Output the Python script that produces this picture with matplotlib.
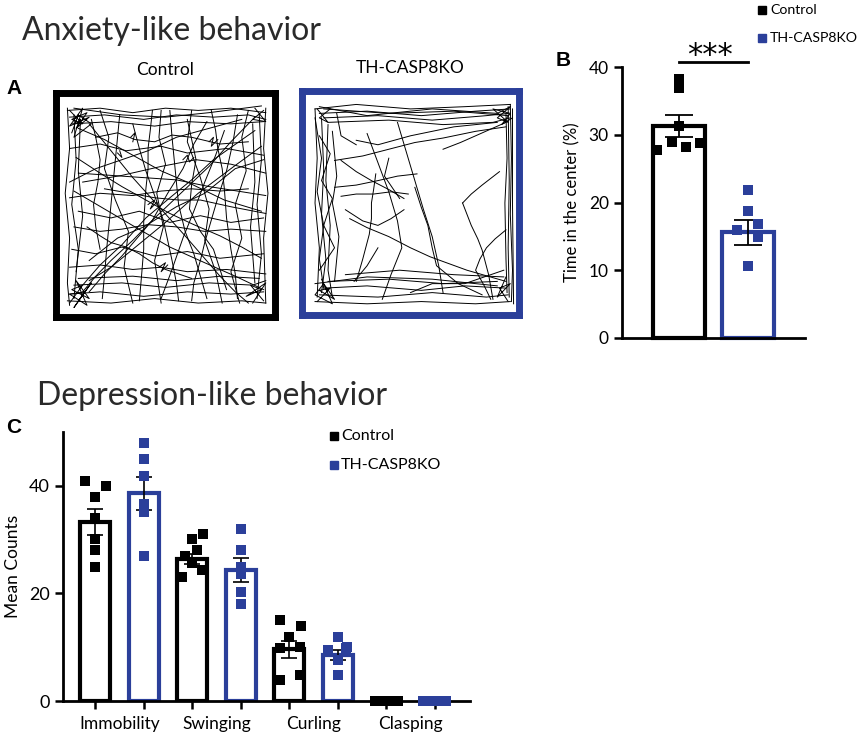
import numpy as np
import matplotlib
matplotlib.use("Agg")
import matplotlib.pyplot as plt
from matplotlib.lines import Line2D

plt.rcParams['font.family'] = ['Lato', 'DejaVu Sans']

W, H = 865, 734
BLUE = '#2b3f9a'

# ---- Panel A: open field tracks (box coords 0-100, y up) ----
ctrl_tracks = [
    [(5, 92), (20, 93), (35, 91), (50, 93), (65, 92), (80, 93), (96, 91)],
    [(6, 89), (22, 90), (40, 88), (55, 90), (72, 89), (88, 90), (96, 88)],
    [(7, 86), (25, 87), (45, 85), (60, 87), (80, 86), (95, 87)],
    [(8, 93), (30, 90), (50, 89), (70, 91), (94, 94)],
    [(5, 7), (25, 6), (45, 8), (65, 6), (85, 7), (96, 6)],
    [(6, 10), (20, 11), (40, 9), (60, 11), (80, 10), (95, 11)],
    [(8, 14), (30, 15), (50, 13), (70, 15), (90, 14), (96, 16)],
    [(10, 17), (35, 18), (55, 16), (75, 18), (93, 17)],
    [(5, 93), (6, 75), (4, 55), (6, 35), (5, 15), (6, 5)],
    [(8, 90), (9, 70), (7, 50), (10, 30), (8, 8)],
    [(11, 88), (10, 65), (12, 45), (9, 20)],
    [(96, 93), (95, 75), (97, 55), (95, 35), (96, 6)],
    [(93, 90), (94, 70), (92, 50), (94, 28), (92, 8)],
    [(90, 86), (91, 60), (89, 40), (91, 15)],
    [(10, 84), (22, 79), (35, 72), (48, 65), (60, 60), (77, 52), (94, 47)],
    [(10, 64), (25, 63), (40, 62), (55, 61), (70, 58), (83, 56), (96, 54)],
    [(6, 53), (20, 55), (35, 54), (48, 56), (62, 57), (75, 56), (88, 57)],
    [(8, 40), (20, 38), (30, 39), (42, 41), (55, 40), (68, 38), (80, 39), (96, 38)],
    [(6, 22), (20, 23), (35, 21), (48, 22), (60, 20), (78, 21), (96, 19)],
    [(12, 14), (20, 23), (30, 32), (41, 44), (52, 53), (62, 61), (72, 70), (91, 83)],
    [(15, 11), (22, 19), (30, 27), (37, 35), (44, 43), (51, 55), (58, 66), (63, 77), (69, 87)],
    [(44, 92), (43, 83), (42, 75), (42, 66), (41, 57), (40, 42), (40, 30), (39, 18), (38, 7)],
    [(52, 92), (53, 80), (54, 70), (55, 60), (56, 50), (59, 38), (63, 28), (66, 18), (69, 8)],
    [(71, 92), (73, 83), (74, 75), (76, 66), (77, 57), (78, 44), (80, 30), (82, 19), (83, 8)],
    [(83, 90), (81, 78), (78, 65), (74, 53), (71, 43), (68, 33), (66, 25), (63, 15), (62, 7)],
    [(29, 90), (28, 80), (27, 70), (26, 60), (25, 50), (24, 40), (23, 30), (22, 18), (21, 8)],
    [(35, 86), (38, 75), (41, 65), (45, 54), (49, 43), (51, 34), (53, 25), (55, 15), (56, 7)],
    [(9, 71), (20, 64), (30, 58), (41, 52), (52, 46), (63, 41), (75, 36), (85, 31), (94, 26)],
    [(15, 86), (25, 74), (35, 62), (47, 49), (59, 36), (67, 27), (75, 18), (82, 11), (88, 6)],
    [(22, 57), (34, 55), (45, 53), (56, 52), (66, 52), (80, 49), (96, 46)],
    [(14, 40), (20, 36), (25, 33), (32, 31), (38, 28), (44, 24), (50, 21), (56, 19), (62, 17)],
    [(91, 89), (80, 78), (70, 67), (57, 55), (44, 43), (35, 34), (25, 25), (18, 18), (12, 11)],
    [(77, 83), (73, 72), (68, 60), (63, 47), (58, 35), (53, 21), (48, 8)],
    [(94, 76), (80, 66), (65, 55), (50, 42), (35, 30), (25, 22), (15, 16)],
    [(18, 80), (28, 82), (36, 79), (45, 78), (53, 81), (62, 80), (75, 77), (88, 78)],
    [(20, 30), (18, 40), (17, 50), (19, 60), (20, 70), (18, 80), (16, 88)],
    [(60, 88), (62, 79), (64, 70), (62, 59), (61, 48), (66, 38), (72, 30), (75, 21), (78, 12)],
    [(6, 75), (20, 77), (32, 74), (48, 76), (60, 73), (78, 75), (95, 72)],
    [(7, 30), (18, 28), (30, 31), (45, 27), (60, 29), (75, 26), (95, 28)],
    [(20, 92), (24, 80), (22, 66), (27, 52), (33, 38), (31, 22), (35, 6)],
    [(62, 92), (60, 78), (66, 62), (70, 48), (68, 34), (73, 20), (76, 6)],
    [(88, 92), (85, 80), (87, 65), (82, 50), (85, 35), (80, 20), (84, 6)],
    [(6, 60), (18, 66), (30, 70), (42, 74), (55, 80), (70, 84), (85, 88)],
    [(10, 47), (25, 44), (38, 47), (52, 42), (66, 45), (80, 42), (95, 44)],
    [(15, 25), (28, 35), (40, 40), (55, 49), (68, 55), (82, 66), (95, 70)],
    [(48, 92), (47, 80), (50, 68), (46, 55), (49, 40), (45, 25), (48, 6)],
    [(8, 56), (22, 48), (36, 40), (52, 31), (68, 24), (82, 18), (95, 12)],
    [(96, 64), (80, 68), (64, 70), (48, 67), (30, 63), (12, 60)],
    [(6, 92), (12, 86), (7, 88), (14, 91), (9, 84), (15, 89), (6, 85), (12, 93), (8, 80), (16, 86), (10, 90), (7, 82)],
    [(6, 6), (12, 14), (7, 12), (15, 8), (9, 16), (14, 5), (6, 10), (13, 11), (8, 4), (16, 15), (10, 7)],
    [(95, 7), (89, 14), (94, 12), (87, 9), (96, 15), (90, 6)],
    [(95, 92), (90, 88), (96, 87), (91, 93)],
    [(42, 50), (45, 52), (43, 48), (46, 51)],
    [(47, 22), (50, 24), (48, 20), (51, 23)],
    [(28, 73), (30, 71), (29, 74)],
    [(58, 70), (60, 72), (61, 69), (63, 71)],
    [(70, 78), (72, 80), (71, 76), (74, 79)],
    [(34, 80), (36, 82), (35, 78)],
]

ko_tracks = [
    [(6, 92), (25, 94), (50, 92), (75, 93), (96, 94)],
    [(8, 90), (30, 91), (55, 89), (80, 91), (96, 92)],
    [(10, 88), (35, 89), (60, 87), (85, 89), (95, 90)],
    [(12, 86), (40, 87), (65, 85), (88, 86), (96, 88)],
    [(8, 93), (30, 89), (60, 92), (90, 90), (96, 93)],
    [(10, 92), (40, 90), (70, 91), (95, 89)],
    [(96, 94), (96.5, 70), (96, 45), (97, 20), (96.5, 6)],
    [(95, 93), (95.5, 60), (95, 30), (95.5, 8)],
    [(94, 90), (94.5, 70), (93.5, 50), (94, 25), (94.5, 10)],
    [(97, 92), (97, 50), (97.5, 5)],
    [(6, 92), (7, 70), (6, 50), (8, 30), (7, 8)],
    [(9, 88), (10, 65), (9, 45), (11, 25), (9, 10)],
    [(12, 85), (11, 60), (13, 40), (12, 20), (14, 8)],
    [(14, 82), (16, 62), (14, 50), (17, 35), (15, 15)],
    [(8, 80), (13, 72), (9, 60), (14, 52), (10, 40), (15, 30), (8, 20)],
    [(6, 88), (9, 70), (7, 55), (10, 40), (8, 25), (10, 12)],
    [(6, 6), (30, 5), (55, 6), (80, 5), (96, 6)],
    [(8, 9), (35, 8), (60, 10), (85, 8), (95, 9)],
    [(10, 12), (30, 13), (55, 11), (75, 13), (94, 12)],
    [(12, 15), (40, 16), (65, 14), (90, 15)],
    [(20, 18), (45, 20), (70, 18), (93, 17)],
    [(6, 14), (30, 17), (60, 16), (90, 13)],
    [(15, 69), (28, 71), (40, 74), (52, 77), (65, 79), (80, 82), (94, 84)],
    [(15, 57), (25, 58), (35, 60), (44, 62), (53, 63)],
    [(18, 69), (25, 64), (32, 60), (40, 56), (47, 52)],
    [(30, 81), (35, 68), (40, 55), (44, 42), (46, 30), (41, 18), (37, 7)],
    [(44, 86), (48, 73), (52, 60), (56, 47), (60, 35), (63, 22), (65, 10)],
    [(52, 57), (55, 48), (58, 40), (60, 30), (62, 22), (72, 14), (83, 9)],
    [(74, 50), (78, 54), (83, 58), (91, 64)],
    [(74, 50), (76, 45), (78, 40), (81, 34), (83, 29), (86, 18), (88, 7)],
    [(22, 43), (30, 39), (40, 35), (50, 30), (59, 26), (76, 20), (94, 15)],
    [(34, 63), (33, 56), (32, 50), (32, 43), (31, 36), (28, 25), (25, 15)],
    [(35, 30), (30, 22), (24, 15)],
    [(65, 74), (73, 77), (80, 80), (94, 86)],
    [(18, 53), (25, 54), (33, 54), (41, 55), (49, 54)],
    [(25, 78), (35, 76), (50, 80), (70, 84), (90, 86)],
    [(20, 47), (28, 42), (35, 40), (41, 43), (47, 47)],
    [(94, 38), (89, 34), (85, 30), (82, 25), (80, 20), (84, 13), (87, 7)],
    [(50, 10), (60, 14), (75, 14), (93, 20)],
    [(40, 70), (38, 62), (45, 52)],
    [(16, 90), (18, 80), (25, 76)],
    [(96, 93), (90, 88), (95, 86), (88, 92), (96, 90), (92, 85), (97, 88)],
    [(7, 6), (13, 12), (8, 11), (15, 7), (10, 14), (6, 9), (14, 5), (9, 16)],
    [(95, 6), (91, 12), (96, 14), (90, 8), (94, 17)],
    [(7, 92), (12, 86), (8, 88), (13, 92)],
]

# ---- Panel B: time in the center (%) ----
groups = ['Control', 'TH-CASP8KO']
center_means = [31.3, 15.6]
center_sem = [1.6, 1.8]
center_ctrl_pts = [38.3, 36.9, 31.3, 29.0, 28.2, 27.7, 28.8]
center_ko_pts = [21.8, 18.8, 16.0, 16.9, 14.9, 10.6]

# ---- Panel C: depression-like behavior ----
behaviors = ['Immobility', 'Swinging', 'Curling', 'Clasping']
ctrl_means = [33.3, 26.4, 9.6, 0]
ctrl_sem = [2.4, 0.9, 1.6, 0]
ko_means = [38.6, 24.3, 8.6, 0]
ko_sem = [3.1, 2.2, 0.9, 0]
ctrl_pts = [
    [40.9, 39.9, 38.0, 34.1, 30.1, 28.0, 24.9],
    [31.0, 30.1, 28.0, 27.0, 25.6, 24.3, 23.0],
    [15.0, 13.9, 11.9, 9.8, 10.1, 4.8, 3.9],
    [0, 0, 0, 0, 0, 0, 0],
]
ko_pts = [
    [47.9, 44.9, 41.9, 36.6, 35.1, 26.9],
    [32.0, 28.0, 24.9, 23.6, 20.2, 18.1],
    [11.9, 10.1, 9.4, 7.7, 4.9, 9.9],
    [0, 0, 0, 0, 0, 0],
]

# horizontal jitter of the dots (layout only)
b_ctrl_dx = [0, 0, 0, -0.1, 0.1, -0.32, 0.31]
b_ko_dx = [0, 0, -0.16, 0.15, 0.15, 0]
c_ctrl_dx = [
    [-0.11, 0.11, 0, 0, 0, 0, 0],
    [0.11, 0, 0.045, -0.075, 0, 0.1, -0.11],
    [-0.1, 0.12, 0, -0.1, 0.11, 0.11, -0.1],
    [-0.12, -0.08, -0.04, 0, 0.04, 0.08, 0.12],
]
c_ko_dx = [
    [0, 0, 0, 0, 0, 0],
    [0, 0, 0, 0, 0, 0],
    [0, 0.1, -0.1, 0, 0, 0.08],
    [-0.12, -0.07, -0.02, 0.03, 0.08, 0.12],
]


def px(x0, y0, x1, y1):
    return [x0 / W, 1 - y1 / H, (x1 - x0) / W, (y1 - y0) / H]


fig = plt.figure(figsize=(W / 100, H / 100), dpi=100)

# titles and panel letters
fig.text(22 / W, 1 - 40 / H, 'Anxiety-like behavior', fontsize=23,
         color='#2a2a2a', va='baseline')
fig.text(37 / W, 1 - 405 / H, 'Depression-like behavior', fontsize=23,
         color='#2a2a2a', va='baseline')
for lab, x, y in [('A', 14, 88), ('B', 563, 60), ('C', 14, 428)]:
    fig.text(x / W, 1 - y / H, lab, fontsize=15, fontweight='bold', family='Liberation Sans',
             ha='center', va='center')

# ---- A ----
for tracks, box, col, title in [(ctrl_tracks, (56.5, 92.5, 274.5, 316.5), 'black', groups[0]),
                                (ko_tracks, (302, 91, 519, 315), BLUE, groups[1])]:
    ax = fig.add_axes(px(*box))
    for tr in tracks:
        xs, ys = zip(*tr)
        ax.plot(xs, ys, color='black', lw=0.7)
    ax.set_xlim(0, 100)
    ax.set_ylim(0, 100)
    ax.set_xticks([])
    ax.set_yticks([])
    for s in ax.spines.values():
        s.set_color(col)
        s.set_linewidth(5)
    ax.text(0.5, 1.065, title, transform=ax.transAxes, ha='center', va='bottom', fontsize=12.5)

# ---- B ----
axB = fig.add_axes(px(622, 67, 805, 338))
xb = np.arange(2)
axB.bar(xb, center_means, width=0.75, color='white', edgecolor=['black', BLUE],
        linewidth=3, zorder=1, clip_on=False)
axB.errorbar(xb, center_means, yerr=center_sem, fmt='none', ecolor='black',
             elinewidth=1.3, capsize=10, capthick=1.3, zorder=3)
for x, pts, dx, c in [(0, center_ctrl_pts, b_ctrl_dx, 'black'), (1, center_ko_pts, b_ko_dx, BLUE)]:
    axB.plot(x + np.array(dx), pts, 's', color=c, ms=7.5, mew=0, zorder=4, clip_on=False)
axB.plot([0, 1], [40.7, 40.7], color='black', lw=2, clip_on=False)
axB.text(0.45, 40.4, '***', ha='center', va='baseline', fontsize=22, family='DejaVu Sans',
         clip_on=False)
axB.set_xlim(-0.826, 1.826)
axB.set_ylim(0, 40)
axB.set_yticks([0, 10, 20, 30, 40])
axB.set_xticks([])
axB.spines[['top', 'right']].set_visible(False)
axB.spines[['left', 'bottom']].set_linewidth(2)
axB.tick_params(axis='y', width=1.8, length=6, labelsize=12.5)
axB.set_ylabel('Time in the center (%)', fontsize=12, labelpad=6)

for y, c, lab in [(10, 'black', groups[0]), (38, BLUE, groups[1])]:
    fig.add_artist(Line2D([762 / W], [1 - y / H], marker='s', color=c, ms=6, ls='none',
                          transform=fig.transFigure))
    fig.text(770 / W, 1 - y / H, lab, fontsize=10.2, va='center')

# ---- C ----
axC = fig.add_axes(px(63, 432, 470, 701))
xc = np.arange(len(behaviors))
off = 0.25
axC.bar(xc - off, ctrl_means, width=0.31, color='white', edgecolor='black', linewidth=3, zorder=1)
axC.bar(xc + off, ko_means, width=0.31, color='white', edgecolor=BLUE, linewidth=3, zorder=1)
axC.errorbar(xc - off, ctrl_means, yerr=ctrl_sem, fmt='none', ecolor='black',
             elinewidth=1.2, capsize=6, capthick=1.2, zorder=3)
axC.errorbar(xc + off, ko_means, yerr=ko_sem, fmt='none', ecolor='black',
             elinewidth=1.2, capsize=6, capthick=1.2, zorder=3)
for i in range(len(behaviors)):
    axC.plot(xc[i] - off + np.array(c_ctrl_dx[i]), ctrl_pts[i], 's', color='black',
             ms=7, mew=0, zorder=4, clip_on=False)
    axC.plot(xc[i] + off + np.array(c_ko_dx[i]), ko_pts[i], 's', color=BLUE,
             ms=7, mew=0, zorder=4, clip_on=False)
axC.set_xlim(-0.582, 3.613)
axC.set_ylim(0, 50)
axC.set_yticks([0, 20, 40])
axC.set_xticks(np.concatenate([xc - off, xc + off]))
axC.set_xticklabels([])
axC.set_xticks(xc, minor=True)
axC.set_xticklabels(behaviors, minor=True, fontsize=12.5)
axC.tick_params(axis='x', which='minor', length=0, pad=11)
axC.tick_params(axis='x', which='major', width=1.8, length=6)
axC.tick_params(axis='y', width=1.8, length=6, labelsize=13)
axC.spines[['top', 'right']].set_visible(False)
axC.spines[['left', 'bottom']].set_linewidth(2)
axC.set_ylabel('Mean Counts', fontsize=12.5, labelpad=6)

for y, c, lab in [(436, 'black', groups[0]), (465, BLUE, groups[1])]:
    fig.add_artist(Line2D([334 / W], [1 - y / H], marker='s', color=c, ms=6, ls='none',
                          transform=fig.transFigure))
    fig.text(341 / W, 1 - y / H, lab, fontsize=11.5, va='center')

fig.savefig('out.png', dpi=100)
